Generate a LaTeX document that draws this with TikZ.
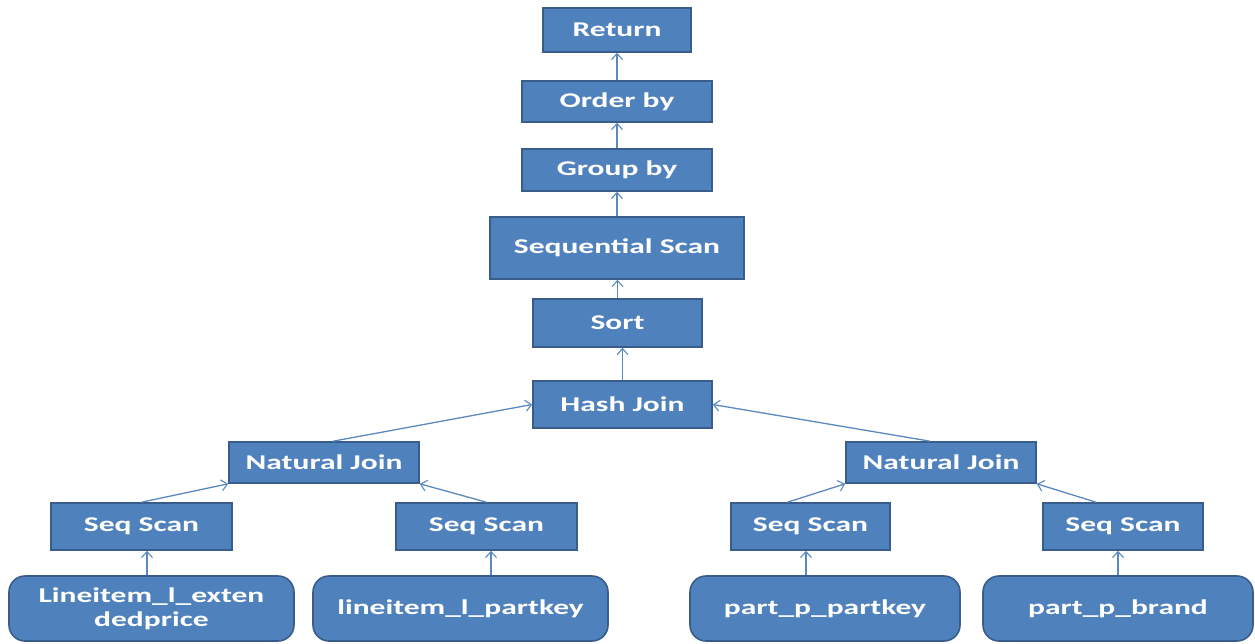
\documentclass[tikz,border=0pt]{standalone}
\usepackage{fontspec}
\newfontfamily\boxfont[FakeStretch=1.5]{Carlito}
\usetikzlibrary{arrows.meta}
\definecolor{boxfill}{HTML}{4F81BD}
\definecolor{boxline}{HTML}{385D8A}
\definecolor{arrowcol}{HTML}{5A88C0}
\tikzset{
  box/.style={draw=boxline, line width=1.6pt, fill=boxfill, text=white, inner sep=0pt,
    font=\boxfont\bfseries\fontsize{21}{25}\selectfont, align=center},
  leafbox/.style={box, rounded corners=16pt, minimum height=65pt},
  arr/.style={draw=arrowcol, line width=1.3pt, -{Straight Barb[length=6pt,width=11pt,line width=1.1pt]}}
}
\begin{document}
\begin{tikzpicture}[x=1pt,y=-1pt]
\useasboundingbox (0,0) rectangle (1255,643);
% upper chain
\node[box, minimum width=148pt, minimum height=44pt] (ret) at (617,30) {Return};
\node[box, minimum width=190pt, minimum height=41pt] (ord) at (617,101.5) {Order by};
\node[box, minimum width=190pt, minimum height=42pt] (grp) at (617,170) {Group by};
\node[box, minimum width=254pt, minimum height=62pt] (seq) at (617,248) {Sequential Scan};
\node[box, minimum width=169pt, minimum height=48pt] (sort) at (617.5,323) {Sort};
\node[box, minimum width=179pt, minimum height=47pt] (hash) at (622.5,404.5) {Hash Join};
% joins
\node[box, minimum width=190pt, minimum height=41pt] (njL) at (324,462.5) {Natural Join};
\node[box, minimum width=190pt, minimum height=41pt] (njR) at (941,462.5) {Natural Join};
% seq scans
\node[box, minimum width=181pt, minimum height=47pt] (ss1) at (141.5,526.5) {Seq Scan};
\node[box, minimum width=181pt, minimum height=47pt] (ss2) at (486.5,526.5) {Seq Scan};
\node[box, minimum width=159pt, minimum height=47pt] (ss3) at (810.5,526.5) {Seq Scan};
\node[box, minimum width=160pt, minimum height=47pt] (ss4) at (1123,526.5) {Seq Scan};
% leaves
\node[leafbox, minimum width=285pt] (lf1) at (151.5,608.5) {Lineitem\_l\_exten\\[-1pt]dedprice};
\node[leafbox, minimum width=295pt] (lf2) at (460.5,608.5) {lineitem\_l\_partkey};
\node[leafbox, minimum width=270pt] (lf3) at (825,608.5) {part\_p\_partkey};
\node[leafbox, minimum width=270pt] (lf4) at (1118,608.5) {part\_p\_brand};
% vertical connectors
\draw[arr] (ord.north) -- (ret.south);
\draw[arr] (grp.north) -- (ord.south);
\draw[arr] (seq.north) -- (grp.south);
\draw[arr] (sort.north) -- (sort.north |- seq.south);
\draw[arr] (hash.north) -- (hash.north |- sort.south);
% joins to hash
\draw[arr] ([xshift=9pt]njL.north) -- (hash.west);
\draw[arr] ([xshift=-11pt]njR.north) -- (hash.east);
% scans to joins
\draw[arr] (ss1.north) -- (njL.south west);
\draw[arr] (ss2.north) -- (njL.south east);
\draw[arr] ([xshift=-23pt]ss3.north) -- (njR.south west);
\draw[arr] ([xshift=-27pt]ss4.north) -- (njR.south east);
% leaves to scans
\draw[arr] ([xshift=-4.5pt]lf1.north) -- ([xshift=-4.5pt]lf1.north |- ss1.south);
\draw[arr] ([xshift=30.5pt]lf2.north) -- ([xshift=30.5pt]lf2.north |- ss2.south);
\draw[arr] ([xshift=-19pt]lf3.north) -- ([xshift=-19pt]lf3.north |- ss3.south);
\draw[arr] (lf4.north) -- (lf4.north |- ss4.south);
\end{tikzpicture}
\end{document}
